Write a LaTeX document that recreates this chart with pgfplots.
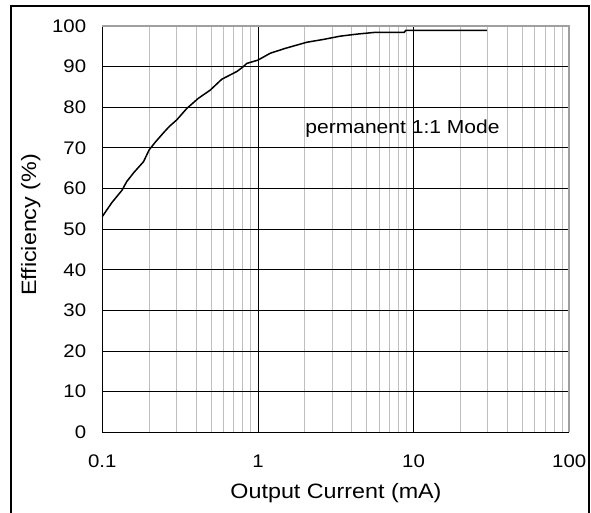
\documentclass[border=0pt]{standalone}
\usepackage{fontspec}
\setmainfont{Liberation Sans}[FakeStretch=1.12]
\usepackage{pgfplots}
\pgfplotsset{compat=1.18}
\begin{document}
\begin{tikzpicture}
\path[use as bounding box] (0,0) rectangle (591pt,512pt);
\fill[white] (0,0) rectangle (591pt,512pt);
\draw[line width=1.5pt] (11pt,-2pt) -- (11pt,506pt) -- (589pt,506pt) -- (589pt,-2pt);
\begin{axis}[
  at={(102.3pt,79.7pt)}, anchor=south west, scale only axis,
  width=466.9pt, height=406.3pt,
  xmode=log, xmin=0.1, xmax=100, ymin=0, ymax=100,
  xtick={0.1,1,10,100}, xticklabels={0.1,1,10,100},
  minor xtick={0.2,0.3,0.4,0.5,0.6,0.7,0.8,0.9,2,3,4,5,6,7,8,9,20,30,40,50,60,70,80,90},
  ytick={0,10,20,30,40,50,60,70,80,90,100},
  grid=both,
  major grid style={black, line width=0.8pt},
  minor grid style={gray!50, line width=0.8pt},
  tick style={draw=none},
  axis line style={draw=none},
  /pgf/number format/assume math mode=true,
  ticklabel style={font=\fontsize{18.2}{22}\selectfont, inner sep=0pt},
  yticklabel style={anchor=east, xshift=-16pt},
  xticklabel style={anchor=north, yshift=-22.7pt},
  clip=false,
]
\addplot[black, line width=1.5pt, mark=none] coordinates {
(0.1,53.1) (0.115,56.5) (0.134,59.6) (0.1435,61.7) (0.16,64.0) (0.184,66.6)
(0.2,69.5) (0.22,71.5) (0.247,73.7) (0.27,75.3) (0.301,76.9) (0.349,79.7)
(0.414,82.2) (0.493,84.2) (0.586,86.9) (0.732,88.8) (0.8,89.9) (0.849,90.8)
(1.0,91.6) (1.2,93.3) (1.5,94.5) (2.06,96.0) (2.64,96.7) (3.38,97.5)
(4.32,98.0) (5.53,98.4) (8.7,98.4) (8.9,98.9) (29.6,98.9)
};
\draw[black, line width=0.8pt] (rel axis cs:0,0) -- (rel axis cs:1,0);
\draw[black, line width=0.8pt] (rel axis cs:0,0) -- (rel axis cs:0,1);
\draw[gray!75, line width=2pt] (rel axis cs:0,1) -- (rel axis cs:1,1) -- (rel axis cs:1,0);
\end{axis}
\node[anchor=base, font=\fontsize{18.8}{22}\selectfont] at (402.5pt,378pt) {permanent 1:1 Mode};
\node[anchor=base, font=\fontsize{20.8}{24}\selectfont] at (336pt,14pt) {Output Current (mA)};
\node[anchor=base, rotate=90, font=\fontsize{20.8}{24}\selectfont] at (36pt,287pt) {Efficiency (\%)};
\end{tikzpicture}
\end{document}
